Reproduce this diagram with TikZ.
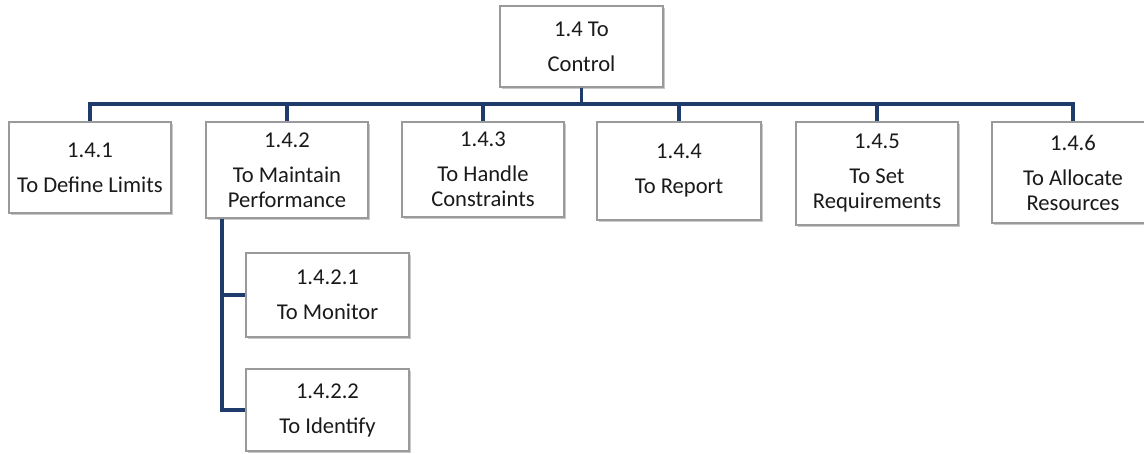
\documentclass[tikz,border=0pt]{standalone}
\usepackage{fontspec}
\setmainfont{Carlito}
\usetikzlibrary{shadows}
\definecolor{bus}{HTML}{1F3B6B}
\definecolor{frame}{HTML}{9A9A9A}
\definecolor{txt}{HTML}{1A1A1A}
\begin{document}
\begin{tikzpicture}[x=1pt,y=-1pt,
  box/.style={draw=frame, line width=1.1pt, fill=white, rectangle, inner sep=0pt,
    align=center, text=txt, font=\fontsize{22.6}{25}\selectfont,
    drop shadow={shadow xshift=1.6pt, shadow yshift=-1.8pt, opacity=0.35, fill=black!60}},
  conn/.style={draw=bus, line width=3.3pt}]
\useasboundingbox (0,0) rectangle (1144,453);
\fill[white] (0,0) rectangle (1144,453);
\coordinate (bus) at (0,104);
\coordinate (vx) at (222,0);
\node[box, minimum width=163pt, minimum height=81pt] (top) at (581.5,46.5) {1.4 To\\[10pt]Control};
\node[box, minimum width=162pt, minimum height=91pt] (c1) at (90,167.5) {1.4.1\\[10pt]To Define Limits};
\node[box, minimum width=162pt, minimum height=96pt] (c2) at (287,170) {1.4.2\\[10pt]To Maintain\\Performance};
\node[box, minimum width=162pt, minimum height=95pt] (c3) at (483,169.5) {1.4.3\\[10pt]To Handle\\Constraints};
\node[box, minimum width=164pt, minimum height=98pt] (c4) at (679,171) {1.4.4\\[10pt]To Report};
\node[box, minimum width=162pt, minimum height=103pt] (c5) at (877,173.5) {1.4.5\\[10pt]To Set\\Requirements};
\node[box, minimum width=162pt, minimum height=101pt] (c6) at (1073,172.5) {1.4.6\\[10pt]To Allocate\\Resources};
\node[box, minimum width=163pt, minimum height=84pt] (g1) at (327.5,295) {1.4.2.1\\[10pt]To Monitor};
\node[box, minimum width=163pt, minimum height=82pt] (g2) at (327.5,410) {1.4.2.2\\[10pt]To Identify};
\foreach \c in {c1,c2,c3,c4,c5,c6}{
  \draw[conn] (top.south) -- (top.south |- bus) -| (\c.north);
}
\draw[conn] (c2.south -| vx) |- (g1.west);
\draw[conn] (c2.south -| vx) |- (g2.west);
\end{tikzpicture}
\end{document}
